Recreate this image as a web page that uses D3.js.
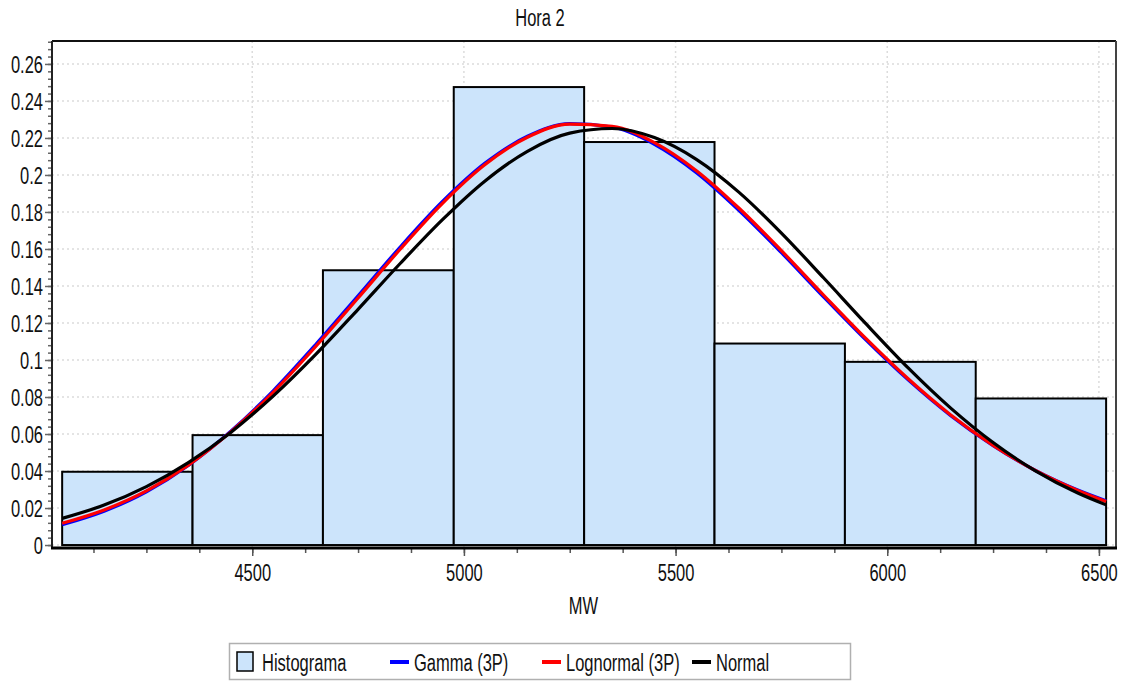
<!DOCTYPE html>
<html>
<head>
<meta charset="utf-8">
<script src="https://cdn.jsdelivr.net/npm/d3@7"></script>
<style>
  html, body { margin: 0; padding: 0; background: #ffffff; }
  svg { display: block; }
  text { font-family: "Liberation Sans", Arial, sans-serif; fill: #111; }
</style>
</head>
<body>
<svg id="chart" width="1123" height="682"></svg>
<script>
// Histogram of hourly load (MW) with three fitted distributions
const binEdges = [4051, 4359, 4667, 4976, 5284, 5592, 5900, 6209, 6517];
const binProb  = [0.0396, 0.0594, 0.1485, 0.2475, 0.2178, 0.1089, 0.0990, 0.0792];

const curveMW  = [4051, 4150, 4250, 4350, 4450, 4550, 4650, 4750, 4850, 4950, 5050, 5150, 5250,
                  5350, 5450, 5550, 5650, 5750, 5850, 5950, 6050, 6150, 6250, 6350, 6450, 6517];
const gammaP   = [0.0110, 0.0183, 0.0288, 0.0432, 0.0616, 0.0835, 0.1084, 0.1347, 0.1612, 0.1858, 0.2064, 0.2209, 0.2277,
                  0.2259, 0.2166, 0.2011, 0.1808, 0.1580, 0.1340, 0.1107, 0.0891, 0.0699, 0.0537, 0.0403, 0.0297, 0.0239];
const lognormP = [0.0118, 0.0190, 0.0293, 0.0433, 0.0613, 0.0827, 0.1073, 0.1335, 0.1600, 0.1848, 0.2056, 0.2204, 0.2275,
                  0.2263, 0.2175, 0.2022, 0.1820, 0.1591, 0.1350, 0.1115, 0.0897, 0.0703, 0.0539, 0.0403, 0.0295, 0.0235];
const normalP  = [0.0144, 0.0216, 0.0316, 0.0447, 0.0610, 0.0806, 0.1030, 0.1274, 0.1523, 0.1760, 0.1968, 0.2128, 0.2226,
                  0.2251, 0.2202, 0.2083, 0.1906, 0.1686, 0.1443, 0.1195, 0.0956, 0.0740, 0.0554, 0.0401, 0.0281, 0.0217];

const yTicks      = [0, 0.02, 0.04, 0.06, 0.08, 0.1, 0.12, 0.14, 0.16, 0.18, 0.2, 0.22, 0.24, 0.26];
const yTickLabels = ["0", "0.02", "0.04", "0.06", "0.08", "0.1", "0.12", "0.14", "0.16", "0.18", "0.2", "0.22", "0.24", "0.26"];
const xTicks      = [4500, 5000, 5500, 6000, 6500];
const xTickLabels = ["4500", "5000", "5500", "6000", "6500"];

const titleText = "Hora 2";
const xTitle = "MW";
const legendNames = ["Histograma", "Gamma (3P)", "Lognormal (3P)", "Normal"];
const colors = { hist: "#cce4fb", gamma: "#0000ff", lognormal: "#ff0000", normal: "#000000" };

// layout
const plotL = 52, plotR = 1115, plotT = 41, plotB = 548;
const fontSize = 22, sx = 0.75, sy = 1.12;

const svg = d3.select("#chart");

const x = d3.scaleLinear().domain([4027, 6538]).range([plotL, plotR]);
const y = d3.scaleLinear().domain([-0.0016, 0.2724]).range([plotB, plotT]);

function label(g, tx, ty, str, anchor) {
  return g.append("text")
    .attr("transform", `translate(${tx},${ty}) scale(${sx},${sy})`)
    .attr("text-anchor", anchor || "middle")
    .attr("dominant-baseline", "central")
    .style("font-size", fontSize + "px")
    .text(str);
}

// title
label(svg, 540, 17, titleText);

// grid
const grid = svg.append("g");
grid.selectAll("line.h").data(yTicks).join("line").attr("class", "h")
  .attr("x1", plotL).attr("x2", plotR)
  .attr("y1", d => y(d)).attr("y2", d => y(d))
  .attr("stroke", "#dcdcdc").attr("stroke-width", 1.5).attr("stroke-dasharray", "2,3");
grid.selectAll("line.v").data(xTicks).join("line").attr("class", "v")
  .attr("y1", plotT).attr("y2", plotB)
  .attr("x1", d => x(d)).attr("x2", d => x(d))
  .attr("stroke", "#dcdcdc").attr("stroke-width", 1.5).attr("stroke-dasharray", "2,3");

// histogram bars
const bars = binProb.map((p, i) => ({ x0: binEdges[i], x1: binEdges[i + 1], p }));
svg.append("g").selectAll("rect").data(bars).join("rect")
  .attr("x", d => x(d.x0)).attr("width", d => x(d.x1) - x(d.x0))
  .attr("y", d => y(d.p)).attr("height", d => y(0) - y(d.p))
  .attr("fill", colors.hist).attr("stroke", "#000").attr("stroke-width", 2);

// fitted curves
const line = d3.line().x(d => x(d[0])).y(d => y(d[1])).curve(d3.curveMonotoneX);
const series = [
  { vals: gammaP, color: colors.gamma },
  { vals: lognormP, color: colors.lognormal },
  { vals: normalP, color: colors.normal }
];
svg.append("g").selectAll("path").data(series).join("path")
  .attr("d", s => line(curveMW.map((m, i) => [m, s.vals[i]])))
  .attr("fill", "none").attr("stroke", s => s.color).attr("stroke-width", 3.2)
  .attr("stroke-linejoin", "round");

// frame (top / right)
svg.append("line").attr("x1", plotL).attr("x2", plotR + 1).attr("y1", plotT).attr("y2", plotT)
  .attr("stroke", "#111").attr("stroke-width", 2);
svg.append("line").attr("x1", plotR + 1).attr("x2", plotR + 1).attr("y1", plotT).attr("y2", plotB)
  .attr("stroke", "#444").attr("stroke-width", 2);

// y axis
const yMinor = d3.range(0, 0.2721, 0.004);
const yAxisMinor = svg.append("g").attr("transform", `translate(${plotL},0)`)
  .call(d3.axisLeft(y).tickValues(yMinor).tickSize(4).tickFormat(""));
const yAxis = svg.append("g").attr("transform", `translate(${plotL},0)`)
  .call(d3.axisLeft(y).tickValues(yTicks).tickSize(7).tickFormat((d, i) => yTickLabels[i]));
[yAxisMinor, yAxis].forEach(g => {
  g.select(".domain").remove();
  g.selectAll(".tick line").attr("stroke", "#666").attr("stroke-width", 1.5);
});
yAxis.selectAll(".tick text")
  .attr("x", null).attr("dy", null)
  .attr("transform", `translate(-9,0) scale(${sx},${sy})`)
  .attr("text-anchor", "end").attr("dominant-baseline", "central")
  .style("font-size", fontSize + "px").attr("fill", "#111");
svg.append("line").attr("x1", plotL).attr("x2", plotL).attr("y1", plotT).attr("y2", plotB)
  .attr("stroke", "#222").attr("stroke-width", 2);

// x axis
const xMinor = d3.range(4125, 6501, 125);
const xAxisMinor = svg.append("g").attr("transform", `translate(0,${plotB})`)
  .call(d3.axisBottom(x).tickValues(xMinor).tickSize(5).tickFormat(""));
const xAxis = svg.append("g").attr("transform", `translate(0,${plotB})`)
  .call(d3.axisBottom(x).tickValues(xTicks).tickSize(8).tickFormat((d, i) => xTickLabels[i]));
[xAxisMinor, xAxis].forEach(g => {
  g.select(".domain").remove();
  g.selectAll(".tick line").attr("stroke", "#555").attr("stroke-width", 1.5);
});
xAxis.selectAll(".tick text")
  .attr("y", null).attr("dy", null)
  .attr("transform", `translate(0,24) scale(${sx},${sy})`)
  .attr("text-anchor", "middle").attr("dominant-baseline", "central")
  .style("font-size", fontSize + "px").attr("fill", "#111");
svg.selectAll("g").attr("font-family", null).attr("font-size", null);
svg.append("line").attr("x1", plotL - 1).attr("x2", plotR + 2).attr("y1", plotB).attr("y2", plotB)
  .attr("stroke", "#000").attr("stroke-width", 3);

// x axis title
label(svg, (plotL + plotR) / 2, 605, xTitle);

// legend
const lg = svg.append("g");
lg.append("rect").attr("x", 229.5).attr("y", 643.5).attr("width", 621).attr("height", 36)
  .attr("fill", "#fff").attr("stroke", "#b0b0b0").attr("stroke-width", 1.5);
lg.append("rect").attr("x", 237).attr("y", 652).attr("width", 16).attr("height", 19)
  .attr("fill", colors.hist).attr("stroke", "#000").attr("stroke-width", 1.5);
label(lg, 262, 662, legendNames[0], "start");
const lineItems = [
  { x0: 390, tx: 414, color: colors.gamma, name: legendNames[1] },
  { x0: 542, tx: 566, color: colors.lognormal, name: legendNames[2] },
  { x0: 692, tx: 716, color: colors.normal, name: legendNames[3] }
];
lineItems.forEach(it => {
  lg.append("line").attr("x1", it.x0).attr("x2", it.x0 + 19).attr("y1", 662).attr("y2", 662)
    .attr("stroke", it.color).attr("stroke-width", 4);
  label(lg, it.tx, 662, it.name, "start");
});
</script>
</body>
</html>
